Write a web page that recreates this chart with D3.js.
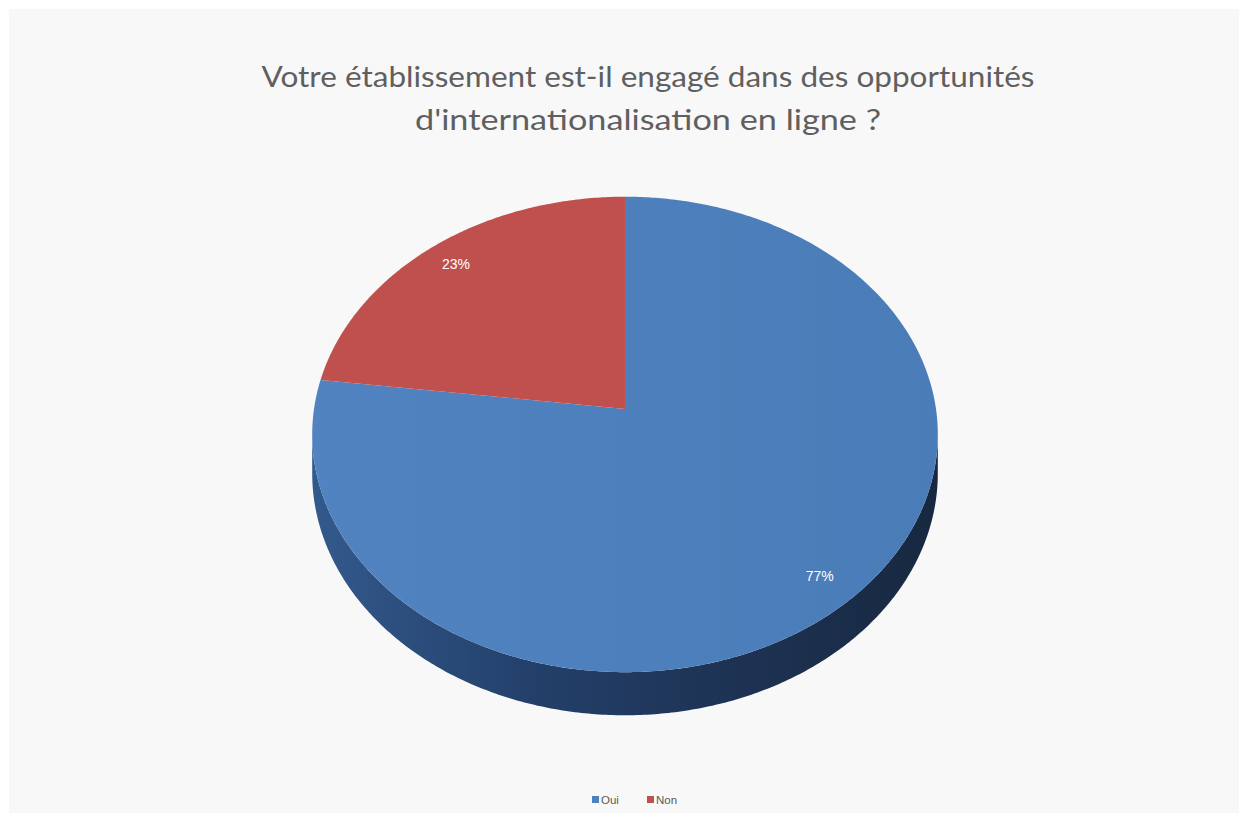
<!DOCTYPE html>
<html lang="fr">
<head>
<meta charset="UTF-8">
<title>Pie 3D</title>
<script src="https://d3js.org/d3.v7.min.js"></script>
<style>
  html, body { margin: 0; padding: 0; background: #fff; }
  svg { display: block; }
</style>
</head>
<body>
<div id="chart"></div>
<script>
// chart data
const categories = ["Oui", "Non"];
const values = [77, 23];
const sliceColors = ["#4f81bd", "#c0504d"];
const titleLines = [
  "Votre établissement est-il engagé dans des opportunités",
  "d'internationalisation en ligne ?"
];

const W = 1247, H = 818;

const svg = d3.select("#chart").append("svg")
  .attr("width", W)
  .attr("height", H)
  .attr("viewBox", [0, 0, W, H]);

// panel background
svg.append("rect")
  .attr("x", 9).attr("y", 9)
  .attr("width", 1230).attr("height", 804)
  .attr("fill", "#f8f8f8");

// perspective pie: unit circle (X right, Z back) projected to the screen
const k = 0.107;      // perspective strength
const depth = 38.5;   // thickness of the pie
const x = d3.scaleLinear().domain([-1, 1]).range([625 - 311, 625 + 311]);
const y = d3.scaleLinear().domain([-1, 1]).range([409 + 235, 409 - 235]);

function project(a, r, drop = 0) {
  const X = r * Math.sin(a), Z = r * Math.cos(a);
  const w = 1 + k * Z;
  return [x(X / w), y(Z / w) + drop / w];
}

function arcPoints(a0, a1, r, drop = 0) {
  const n = Math.max(2, Math.ceil(Math.abs(a1 - a0) / 0.01));
  return d3.range(n + 1).map(i => project(a0 + (a1 - a0) * i / n, r, drop));
}

const line = d3.line();
const pie = d3.pie().sort(null).value(d => d.value);
const slices = pie(categories.map((c, i) => ({ name: c, value: values[i], color: sliceColors[i] })));

const defs = svg.append("defs");
const sideGrad = defs.append("linearGradient")
  .attr("id", "side").attr("x1", "0").attr("x2", "1").attr("y1", "0").attr("y2", "0");
sideGrad.append("stop").attr("offset", "0%").attr("stop-color", "#33598c");
sideGrad.append("stop").attr("offset", "35%").attr("stop-color", "#23406a");
sideGrad.append("stop").attr("offset", "60%").attr("stop-color", "#1f3558");
sideGrad.append("stop").attr("offset", "100%").attr("stop-color", "#172840");

const topGrad = defs.append("linearGradient")
  .attr("id", "topBlue").attr("x1", "0").attr("x2", "1").attr("y1", "0").attr("y2", "0");
topGrad.append("stop").attr("offset", "0%").attr("stop-color", "#5083c0");
topGrad.append("stop").attr("offset", "100%").attr("stop-color", "#4a7cb8");

// side wall (only the front half is visible)
const aL = Math.acos(-k), aR = 2 * Math.PI - Math.acos(-k);
const sidePts = arcPoints(aL, aR, 1).concat(arcPoints(aR, aL, 1, depth));
svg.append("path")
  .attr("d", line(sidePts) + "Z")
  .attr("fill", "url(#side)");

// top faces
svg.append("g").selectAll("path")
  .data(slices)
  .join("path")
  .attr("d", d => line([project(0, 0)].concat(arcPoints(d.startAngle, d.endAngle, 1))) + "Z")
  .attr("fill", (d, i) => i === 0 ? "url(#topBlue)" : d.data.color);

// percentage labels
const total = d3.sum(values);
svg.append("g").selectAll("text")
  .data(slices)
  .join("text")
  .attr("transform", d => {
    const p = project((d.startAngle + d.endAngle) / 2, 0.88);
    return `translate(${p[0]},${p[1]})`;
  })
  .attr("text-anchor", "middle")
  .attr("dy", "0.35em")
  .attr("fill", "#ffffff")
  .style("font", "14px 'Liberation Sans', Arial, sans-serif")
  .text(d => Math.round(d.value / total * 100) + "%");

// title: narrow, tall glyphs like the original (Calibri-ish)
const titleWidths = [773, 466];
svg.append("g")
  .attr("fill", "#5f5f5f")
  .attr("text-anchor", "middle")
  .style("font", "29px Lato, 'Open Sans', sans-serif")
  .selectAll("text")
  .data(titleLines)
  .join("text")
  .attr("x", 648)
  .attr("y", (d, i) => 87 + i * 43)
  .attr("textLength", (d, i) => titleWidths[i])
  .attr("lengthAdjust", "spacingAndGlyphs")
  .text(d => d);

// legend
const legend = svg.append("g")
  .style("font", "11.5px 'Liberation Sans', Arial, sans-serif")
  .attr("fill", "#595959");
const legX = [592, 647];
categories.forEach((c, i) => {
  legend.append("rect")
    .attr("x", legX[i]).attr("y", 796)
    .attr("width", 7).attr("height", 7)
    .attr("fill", sliceColors[i]);
  legend.append("text")
    .attr("x", legX[i] + 9).attr("y", 804)
    .text(c);
});
</script>
</body>
</html>
